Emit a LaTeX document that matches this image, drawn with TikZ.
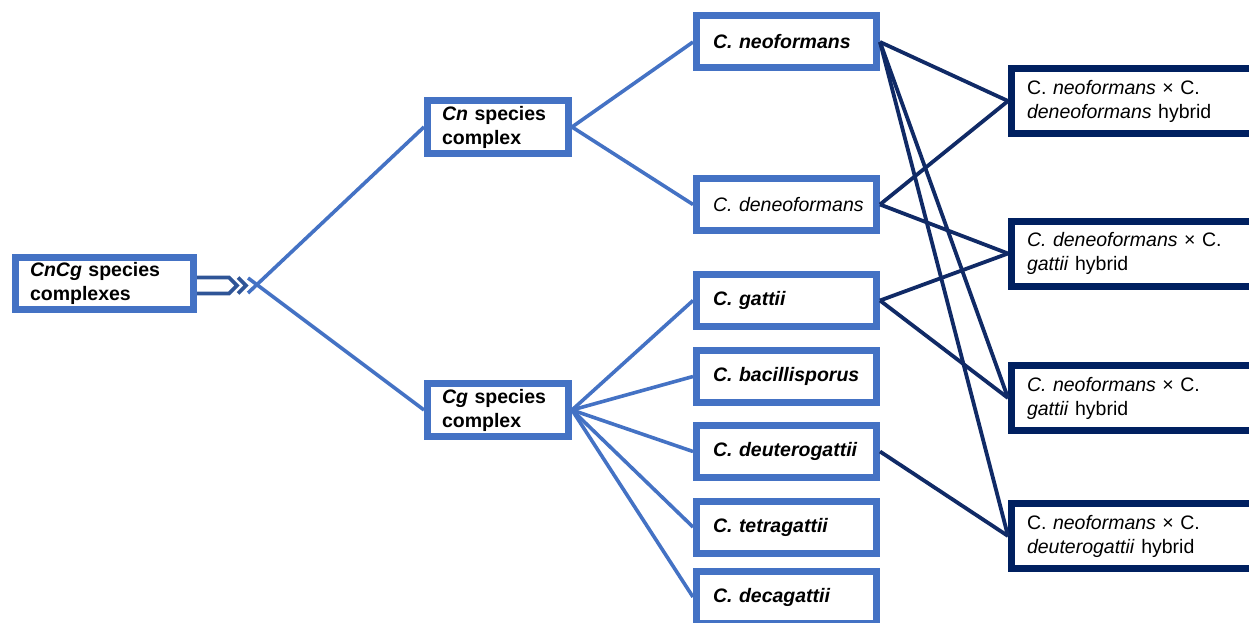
\documentclass[tikz,border=0pt]{standalone}
\usepackage{fontspec}
\setmainfont{Liberation Sans}
\hyphenpenalty=10000
\exhyphenpenalty=10000
\definecolor{lblue}{HTML}{4472C4}
\definecolor{navy}{HTML}{002060}
\definecolor{darkline}{HTML}{102A66}
\definecolor{arrowc}{HTML}{2F5597}
\begin{document}
\begin{tikzpicture}[x=1pt,y=-1pt,
  basebox/.style={line width=7pt, fill=white, inner ysep=0pt, align=left,
    font=\fontsize{19.5}{24}\selectfont},
  bluebox/.style={basebox, draw=lblue, font=\fontsize{19.5}{24}\selectfont\bfseries},
  leftbox/.style={bluebox, minimum width=178pt, minimum height=52pt, inner xsep=14.5pt, text width=149pt},
  midbox/.style={bluebox, minimum width=141pt, minimum height=53pt, inner xsep=14.5pt, text width=112pt},
  spbox/.style={bluebox, minimum width=180pt, minimum height=52pt, inner xsep=16.5pt, text width=147pt},
  hybox/.style={basebox, draw=navy, minimum width=247pt, minimum height=65pt, inner xsep=15.5pt, text width=216pt},
  bline/.style={draw=lblue, line width=3.6pt},
  dline/.style={draw=darkline, line width=3.8pt},
  arrowline/.style={draw=arrowc, line width=3.6pt}
]
\useasboundingbox (0,0) rectangle (1249,623);

% nodes
\node[leftbox] (cncg) at (104.5,283.5) {\textit{CnCg} species\\complexes};
\node[midbox] (cn) at (498,127) {\textit{Cn} species\\complex};
\node[midbox] (cg) at (498,410) {\textit{Cg} species\\complex};

\node[spbox] (neo) at (786.5,42) {\mbox{\textit{C.~neoformans}}};
\node[spbox, font=\fontsize{19.5}{24}\selectfont] (deneo) at (786.5,204.5) {\mbox{\textit{C.~deneoformans}}};
\node[spbox] (gat) at (786.5,300.5) {\mbox{\textit{C.~gattii}}};
\node[spbox] (bac) at (786.5,376.5) {\mbox{\textit{C.~bacillisporus}}};
\node[spbox] (deut) at (786.5,451.5) {\mbox{\textit{C.~deuterogattii}}};
\node[spbox] (tetra) at (786.5,527) {\mbox{\textit{C.~tetragattii}}};
\node[spbox] (deca) at (786.5,597) {\mbox{\textit{C.~decagattii}}};

\node[hybox] (h1) at (1135,101) {C.~\textit{neoformans} × C.\\\textit{deneoformans} hybrid};
\node[hybox] (h2) at (1135,253.5) {\textit{C.~deneoformans} × C.\\\textit{gattii} hybrid};
\node[hybox] (h3) at (1135,398) {\textit{C.~neoformans} × C.\\\textit{gattii} hybrid};
\node[hybox] (h4) at (1135,536) {C.~\textit{neoformans} × C.\\\textit{deuterogattii} hybrid};

% arrow from CnCg
\coordinate (a1) at (197,277.5);
\coordinate (a2) at (229,277.5);
\coordinate (a3) at (237,285.5);
\coordinate (a4) at (229,293.5);
\coordinate (a5) at (197,293.5);
\draw[arrowline, line join=miter] (a1) -- (a2) -- (a3) -- (a4) -- (a5);
\coordinate (c1) at (238,277.5);
\coordinate (c2) at (246,285.5);
\coordinate (c3) at (238,293.5);
\draw[arrowline] (c1) -- (c2) -- (c3);

\coordinate (xa) at (248,293);
\coordinate (xb) at (248,278);

% blue connectors
\draw[bline] (cn.west) -- (xa);
\draw[bline] (cg.west) -- (xb);
\draw[bline] (cn.east) -- (neo.west);
\draw[bline] (cn.east) -- (deneo.west);
\draw[bline] (cg.east) -- (gat.west);
\draw[bline] (cg.east) -- (bac.west);
\draw[bline] (cg.east) -- (deut.west);
\draw[bline] (cg.east) -- (tetra.west);
\draw[bline] (cg.east) -- (deca.west);

% dark connectors
\draw[dline] (neo.east) -- (h1.west);
\draw[dline] (neo.east) -- (h3.west);
\draw[dline] (neo.east) -- (h4.west);
\draw[dline] (deneo.east) -- (h1.west);
\draw[dline] (deneo.east) -- (h2.west);
\draw[dline] (gat.east) -- (h2.west);
\draw[dline] (gat.east) -- (h3.west);
\draw[dline] (deut.east) -- (h4.west);
\end{tikzpicture}
\end{document}
